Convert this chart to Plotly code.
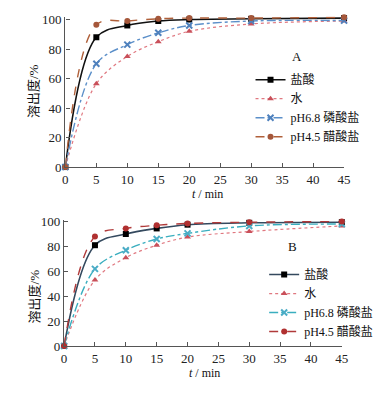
import plotly.graph_objects as go

t = [0, 5, 10, 15, 20, 30, 45]
names = ["盐酸", "水", "pH6.8 磷酸盐", "pH4.5 醋酸盐"]

A_hcl = [0, 88, 96, 99, 100, 100.5, 101]
A_water = [0, 56.5, 75, 85, 92, 97, 99]
A_phos = [0, 70, 83, 91, 96, 99, 99.3]
A_acet = [0, 96.5, 99, 100.5, 101, 101, 101.5]

B_hcl = [0, 81, 90, 94.5, 97.5, 99, 99.5]
B_water = [0, 53, 71, 81, 87.5, 92, 96.5]
B_phos = [0, 62, 77, 86, 90.5, 96.5, 98]
B_acet = [0, 88, 94.5, 97, 98.5, 99.5, 100]

x_ticks = [0, 5, 10, 15, 20, 25, 30, 35, 40, 45]
y_ticks = [0, 20, 40, 60, 80, 100]

SERIF = "Liberation Serif, Times New Roman, Noto Sans CJK SC, serif"

styleA = [
    dict(line=dict(color="#111111", width=1.6, dash="solid"), marker=dict(symbol="square", size=6, color="#000000")),
    dict(line=dict(color="#e07880", width=1.2, dash="dot"), marker=dict(symbol="triangle-up", size=6, color="#c9505a")),
    dict(line=dict(color="#5b8fc9", width=1.4, dash="dashdot"), marker=dict(symbol="x-thin", size=6, color="#4f81bd", line=dict(width=2, color="#4f81bd"))),
    dict(line=dict(color="#b0603a", width=1.4, dash="dash"), marker=dict(symbol="circle", size=6, color="#a5573a")),
]
styleB = [
    dict(line=dict(color="#34495e", width=1.6, dash="solid"), marker=dict(symbol="square", size=6, color="#000000")),
    dict(line=dict(color="#e07880", width=1.2, dash="dot"), marker=dict(symbol="triangle-up", size=6, color="#c9505a")),
    dict(line=dict(color="#3aaebf", width=1.4, dash="dashdot"), marker=dict(symbol="x-thin", size=6, color="#4bacc6", line=dict(width=2, color="#4bacc6"))),
    dict(line=dict(color="#b03a3a", width=1.4, dash="dash"), marker=dict(symbol="circle", size=6, color="#b03030")),
]

fig = go.Figure()
for nm, ys, st in zip(names, [A_hcl, A_water, A_phos, A_acet], styleA):
    fig.add_trace(go.Scatter(x=t, y=ys, name=nm, mode="lines+markers", line_shape="spline",
                             xaxis="x", yaxis="y", legend="legend", cliponaxis=False, **st))
for nm, ys, st in zip(names, [B_hcl, B_water, B_phos, B_acet], styleB):
    fig.add_trace(go.Scatter(x=t, y=ys, name=nm, mode="lines+markers", line_shape="spline",
                             xaxis="x2", yaxis="y2", legend="legend2", cliponaxis=False, **st))

axis_common = dict(showline=True, linecolor="#555555", linewidth=1.3, ticks="inside", ticklen=4,
                   tickcolor="#555555", showgrid=False, zeroline=False,
                   tickfont=dict(family=SERIF, size=13, color="#222222"))

W, H = 392, 393


def ann(text, px, py, size=13, angle=0):
    return dict(text=text, x=px / W, y=(H - py) / H, xref="paper", yref="paper", showarrow=False,
                xanchor="center", yanchor="middle", textangle=angle,
                font=dict(family=SERIF, size=size, color="#111111"))


fig.update_layout(
    width=W, height=H, margin=dict(l=0, r=0, t=0, b=0),
    paper_bgcolor="white", plot_bgcolor="white",
    xaxis=dict(domain=[64 / W, 350 / W], range=[0, 45], tickvals=x_ticks, anchor="y", **axis_common),
    yaxis=dict(domain=[(H - 167) / H, (H - 11) / H], range=[0, 102], tickvals=y_ticks, anchor="x", **axis_common),
    xaxis2=dict(domain=[62.7 / W, 347.7 / W], range=[0, 45], tickvals=x_ticks, anchor="y2", **axis_common),
    yaxis2=dict(domain=[(H - 352.5) / H, (H - 221.6) / H], range=[0, 101.5], tickvals=y_ticks, anchor="x2", **axis_common),
    legend=dict(x=254 / W, y=(H - 106) / H, xanchor="left", yanchor="middle", bgcolor="rgba(0,0,0,0)",
                font=dict(family=SERIF, size=12, color="#111111"), itemwidth=30, tracegroupgap=0),
    legend2=dict(x=268 / W, y=(H - 308) / H, xanchor="left", yanchor="middle", bgcolor="rgba(0,0,0,0)",
                 font=dict(family=SERIF, size=12, color="#111111"), itemwidth=30, tracegroupgap=0),
    showlegend=True,
    annotations=[
        ann("A", 302, 52),
        ann("B", 297, 249),
        ann("溶出度/%", 32, 88, 13, -90),
        ann("溶出度/%", 32, 301, 13, -90),
        ann("<i>t</i> / min", 210, 195, 12),
        ann("<i>t</i> / min", 207, 381, 12),
    ],
)

fig.write_html("out.html", config={"displayModeBar": False},
               post_script="document.body.style.margin='0';document.body.style.padding='0';")
